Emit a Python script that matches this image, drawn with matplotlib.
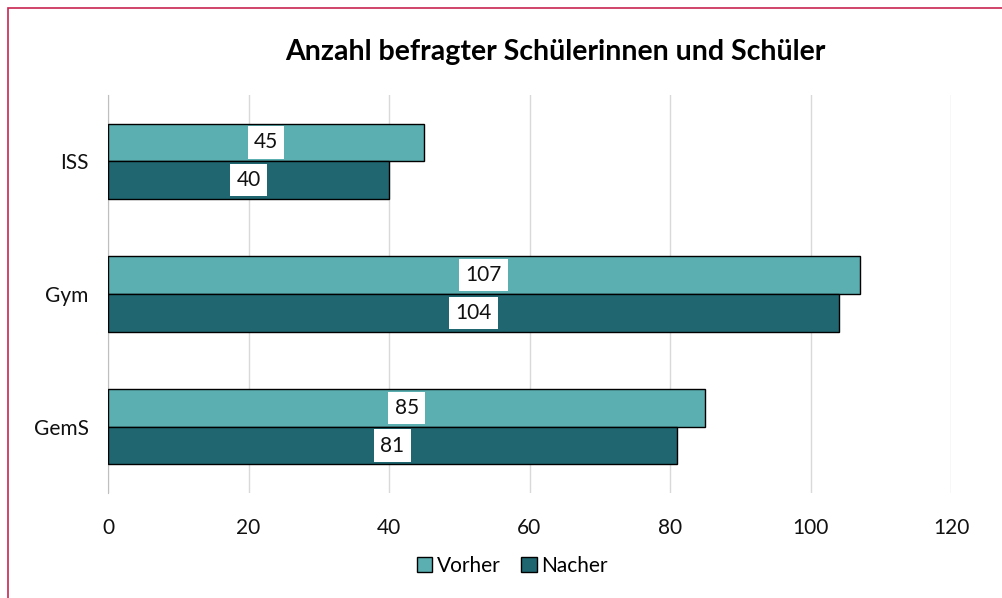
import matplotlib.pyplot as plt
import matplotlib.patches as mpatches
import numpy as np

plt.rcParams['font.family'] = ['Lato', 'DejaVu Sans']

# Daten
schularten = ['GemS', 'Gym', 'ISS']
vorher = [85, 107, 45]
nacher = [81, 104, 40]
xticks = [0, 20, 40, 60, 80, 100, 120]

fig = plt.figure(figsize=(10.02, 5.98), dpi=100)
ax = fig.add_axes([108/1002, 1 - 493/598, (951-108)/1002, (493-95)/598])

y = np.arange(len(schularten))
h = 0.285
b1 = ax.barh(y + h/2, vorher, height=h, color='#5BAFB0', edgecolor='black', linewidth=1, label='Vorher', zorder=3)
b2 = ax.barh(y - h/2, nacher, height=h, color='#1F6670', edgecolor='black', linewidth=1, label='Nacher', zorder=3)

for bars in (b1, b2):
    ax.bar_label(bars, label_type='center', fontsize=15, color='#111111',
                 bbox=dict(facecolor='white', edgecolor='none', pad=4.5), zorder=4)

ax.set_xlim(0, 120)
ax.set_ylim(-0.5, 2.5)
ax.set_xticks(xticks)
ax.set_yticks(y)
ax.set_yticklabels(schularten)
ax.tick_params(length=0, labelsize=15, colors='#111111')
ax.tick_params(axis='x', pad=18)
ax.tick_params(axis='y', pad=14)
ax.grid(axis='x', color='#D9D9D9', linewidth=1, zorder=0)
for s in ['top', 'right', 'bottom']:
    ax.spines[s].set_visible(False)
ax.spines['left'].set_color('#BFBFBF')

fig.text(555/1002, 1 - 52/598, 'Anzahl befragter Schülerinnen und Schüler',
         ha='center', va='center', fontsize=20.5, fontweight='bold')

fig.legend(handles=[b1, b2], loc='center', bbox_to_anchor=(512/1002, 1 - 566/598),
           ncol=2, frameon=False, fontsize=15, handlelength=0.75, handleheight=0.75,
           handletextpad=0.2, columnspacing=1.0)

# Rahmen
fig.patches.append(mpatches.Rectangle((8/1002, -0.1), 1.2, 1 - 8/598 + 0.1,
                                      transform=fig.transFigure, fill=False,
                                      edgecolor='#C8254F', linewidth=1.2))

fig.savefig('out.png', dpi=100)
